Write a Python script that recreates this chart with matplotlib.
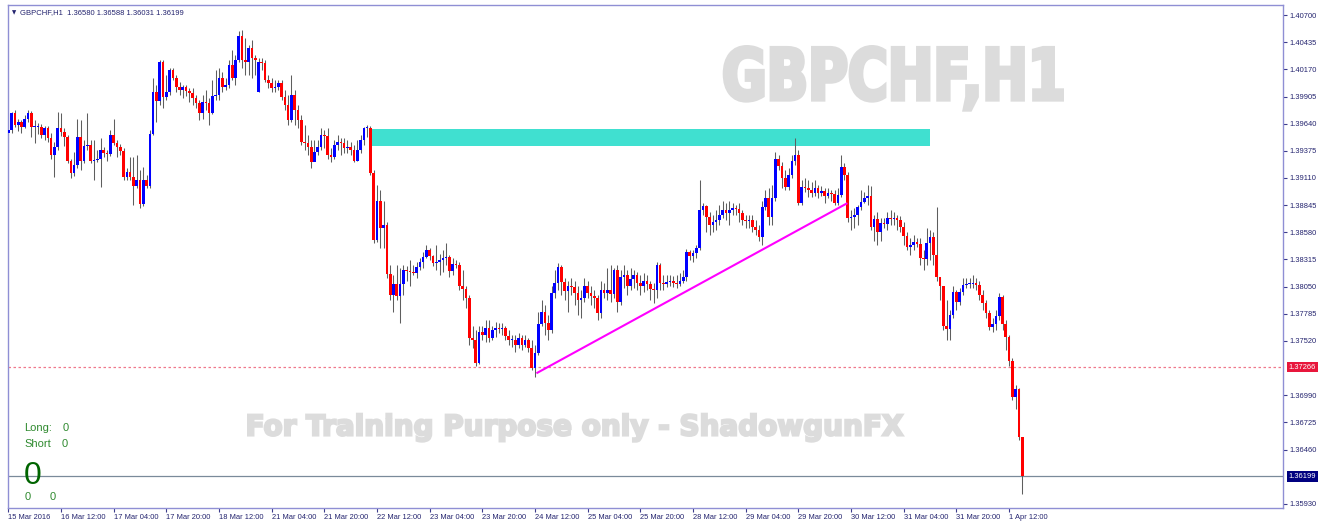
import numpy as np
import matplotlib
matplotlib.use("Agg")
import matplotlib.pyplot as plt
from matplotlib.textpath import TextPath
from matplotlib.patches import PathPatch, Rectangle
from matplotlib.font_manager import FontProperties
from matplotlib.transforms import Affine2D, IdentityTransform, blended_transform_factory

# ---- data (15 Mar 20:00 .. 1 Apr 16:00) ----
first_open = 1.3955
monday_open = 1.3995   # bar 76, 21 Mar 00:00, after the weekend gap

closes = [
    1.3958, 1.3974, 1.3963, 1.3966, 1.3961, 1.3969, 1.3974, 1.3961, 1.3961, 1.3961,
    1.3953, 1.3960, 1.3950, 1.3933, 1.3941, 1.3960, 1.3956, 1.3951, 1.3928, 1.3916,
    1.3924, 1.3951, 1.3928, 1.3942, 1.3943, 1.3928, 1.3929, 1.3930, 1.3938, 1.3935,
    1.3934, 1.3953, 1.3945, 1.3941, 1.3937, 1.3912, 1.3917, 1.3912, 1.3903, 1.3909,
    1.3886, 1.3909, 1.3903, 1.3954, 1.3995, 1.3986, 1.4024, 1.3990, 1.3995, 1.4016,
    1.4009, 1.4000, 1.3997, 1.4000, 1.3996, 1.3994, 1.3989, 1.3984, 1.3974, 1.3985,
    1.3984, 1.3974, 1.3991, 1.3992, 1.4009, 1.4000, 1.4002, 1.4021, 1.4009, 1.4026,
    1.4050, 1.4026, 1.4024, 1.4038, 1.4028, 1.4026, 1.4024, 1.4023, 1.4007, 1.4004,
    1.3999, 1.4000, 1.4004, 1.3990, 1.3982, 1.3968, 1.3992, 1.3977, 1.3968, 1.3946,
    1.3945, 1.3941, 1.3927, 1.3936, 1.3941, 1.3953, 1.3952, 1.3933, 1.3931, 1.3943,
    1.3946, 1.3945, 1.3940, 1.3941, 1.3938, 1.3928, 1.3938, 1.3948, 1.3960, 1.3960,
    1.3916, 1.3851, 1.3889, 1.3862, 1.3865, 1.3817, 1.3797, 1.3808, 1.3796, 1.3808,
    1.3821, 1.3820, 1.3819, 1.3818, 1.3824, 1.3829, 1.3834, 1.3841, 1.3835, 1.3828,
    1.3829, 1.3831, 1.3833, 1.3834, 1.3820, 1.3827, 1.3826, 1.3806, 1.3803, 1.3794,
    1.3755, 1.3753, 1.3731, 1.3761, 1.3758, 1.3765, 1.3755, 1.3763, 1.3765, 1.3764,
    1.3765, 1.3757, 1.3753, 1.3753, 1.3748, 1.3755, 1.3748, 1.3753, 1.3745, 1.3726,
    1.3740, 1.3769, 1.3780, 1.3770, 1.3763, 1.3799, 1.3809, 1.3824, 1.3810, 1.3801,
    1.3806, 1.3805, 1.3799, 1.3792, 1.3794, 1.3806, 1.3799, 1.3796, 1.3794, 1.3779,
    1.3802, 1.3799, 1.3802, 1.3798, 1.3821, 1.3790, 1.3814, 1.3816, 1.3806, 1.3812,
    1.3816, 1.3809, 1.3806, 1.3811, 1.3808, 1.3803, 1.3802, 1.3826, 1.3809, 1.3808,
    1.3810, 1.3811, 1.3809, 1.3808, 1.3811, 1.3814, 1.3839, 1.3835, 1.3838, 1.3843,
    1.3880, 1.3884, 1.3873, 1.3865, 1.3868, 1.3870, 1.3875, 1.3880, 1.3877, 1.3880,
    1.3882, 1.3881, 1.3877, 1.3870, 1.3869, 1.3870, 1.3863, 1.3860, 1.3853, 1.3883,
    1.3891, 1.3873, 1.3891, 1.3930, 1.3923, 1.3911, 1.3902, 1.3914, 1.3928, 1.3933,
    1.3887, 1.3902, 1.3901, 1.3899, 1.3896, 1.3901, 1.3896, 1.3898, 1.3893, 1.3896,
    1.3895, 1.3887, 1.3894, 1.3922, 1.3914, 1.3872, 1.3873, 1.3875, 1.3883, 1.3888,
    1.3891, 1.3893, 1.3863, 1.3871, 1.3858, 1.3867, 1.3866, 1.3872, 1.3871, 1.3872,
    1.3870, 1.3863, 1.3854, 1.3844, 1.3846, 1.3849, 1.3847, 1.3833, 1.3832, 1.3848,
    1.3853, 1.3836, 1.3814, 1.3806, 1.3767, 1.3764, 1.3777, 1.3800, 1.3790, 1.3800,
    1.3807, 1.3808, 1.3808, 1.3809, 1.3807, 1.3797, 1.3789, 1.3779, 1.3766, 1.3769,
    1.3776, 1.3795, 1.3769, 1.3756, 1.3732, 1.3697, 1.3705, 1.3658, 1.36199,
]
highs = [
    1.3974, 1.3975, 1.3977, 1.3969, 1.3968, 1.3972, 1.3977, 1.3976, 1.3968, 1.3965,
    1.3964, 1.3962, 1.3962, 1.3955, 1.3946, 1.3975, 1.3974, 1.3960, 1.3953, 1.3930,
    1.3936, 1.3969, 1.3968, 1.3948, 1.3974, 1.3948, 1.3948, 1.3938, 1.3950, 1.3941,
    1.3938, 1.3958, 1.3969, 1.3948, 1.3944, 1.3940, 1.3921, 1.3931, 1.3931, 1.3933,
    1.3919, 1.3922, 1.3914, 1.3958, 1.4009, 1.4002, 1.4026, 1.4026, 1.4011, 1.4018,
    1.4018, 1.4011, 1.4005, 1.4002, 1.4002, 1.3999, 1.3999, 1.3992, 1.3987, 1.3992,
    1.3997, 1.3989, 1.4007, 1.4016, 1.4018, 1.4014, 1.4009, 1.4026, 1.4036, 1.4031,
    1.4054, 1.4055, 1.4048, 1.4041, 1.4046, 1.4031, 1.4028, 1.4028, 1.4026, 1.4011,
    1.4009, 1.4007, 1.4007, 1.4007, 1.3997, 1.3992, 1.4011, 1.3997, 1.3982, 1.3972,
    1.3963, 1.3953, 1.3948, 1.3948, 1.3948, 1.3960, 1.3958, 1.3960, 1.3940, 1.3948,
    1.3953, 1.3950, 1.3950, 1.3948, 1.3946, 1.3943, 1.3948, 1.3953, 1.3961, 1.3963,
    1.3962, 1.3919, 1.3904, 1.3899, 1.3889, 1.3868, 1.3826, 1.3816, 1.3826, 1.3823,
    1.3826, 1.3825, 1.3831, 1.3826, 1.3829, 1.3833, 1.3839, 1.3846, 1.3843, 1.3836,
    1.3846, 1.3837, 1.3841, 1.3848, 1.3836, 1.3833, 1.3831, 1.3829, 1.3821, 1.3806,
    1.3797, 1.3767, 1.3763, 1.3767, 1.3767, 1.3772, 1.3772, 1.3767, 1.3771, 1.3770,
    1.3770, 1.3767, 1.3763, 1.3758, 1.3758, 1.3760, 1.3758, 1.3758, 1.3755, 1.3753,
    1.3748, 1.3780, 1.3792, 1.3787, 1.3777, 1.3806, 1.3821, 1.3828, 1.3826, 1.3813,
    1.3811, 1.3813, 1.3811, 1.3806, 1.3802, 1.3813, 1.3811, 1.3806, 1.3802, 1.3797,
    1.3811, 1.3809, 1.3823, 1.3826, 1.3823, 1.3826, 1.3821, 1.3826, 1.3821, 1.3823,
    1.3821, 1.3819, 1.3816, 1.3818, 1.3816, 1.3811, 1.3809, 1.3829, 1.3828, 1.3816,
    1.3816, 1.3816, 1.3815, 1.3816, 1.3818, 1.3821, 1.3842, 1.3841, 1.3841, 1.3846,
    1.3909, 1.3887, 1.3885, 1.3878, 1.3875, 1.3880, 1.3885, 1.3889, 1.3887, 1.3889,
    1.3887, 1.3885, 1.3887, 1.3880, 1.3875, 1.3875, 1.3875, 1.3870, 1.3865, 1.3889,
    1.3899, 1.3901, 1.3904, 1.3936, 1.3933, 1.3927, 1.3919, 1.3921, 1.3933, 1.3950,
    1.3938, 1.3909, 1.3911, 1.3909, 1.3907, 1.3909, 1.3904, 1.3903, 1.3901, 1.3901,
    1.3899, 1.3899, 1.3901, 1.3933, 1.3926, 1.3917, 1.3880, 1.3882, 1.3885, 1.3899,
    1.3897, 1.3904, 1.3903, 1.3875, 1.3878, 1.3872, 1.3872, 1.3878, 1.3880, 1.3878,
    1.3875, 1.3874, 1.3868, 1.3858, 1.3852, 1.3855, 1.3852, 1.3852, 1.3841, 1.3862,
    1.3860, 1.3858, 1.3883, 1.3813, 1.3806, 1.3792, 1.3782, 1.3806, 1.3802, 1.3804,
    1.3813, 1.3813, 1.3813, 1.3816, 1.3813, 1.3811, 1.3802, 1.3792, 1.3782, 1.3774,
    1.3782, 1.3799, 1.3797, 1.3772, 1.3758, 1.3735, 1.3709, 1.3706, 1.36588,
]
lows = [
    1.3936, 1.3955, 1.3961, 1.3957, 1.3955, 1.3960, 1.3966, 1.3951, 1.3945, 1.3954,
    1.3950, 1.3948, 1.3946, 1.3930, 1.3912, 1.3938, 1.3952, 1.3942, 1.3926, 1.3911,
    1.3913, 1.3921, 1.3919, 1.3926, 1.3938, 1.3926, 1.3909, 1.3927, 1.3902, 1.3931,
    1.3928, 1.3932, 1.3943, 1.3931, 1.3933, 1.3909, 1.3909, 1.3909, 1.3885, 1.3901,
    1.3882, 1.3884, 1.3901, 1.3901, 1.3953, 1.3966, 1.3982, 1.3979, 1.3987, 1.3992,
    1.4007, 1.3995, 1.3992, 1.3989, 1.3991, 1.3985, 1.3982, 1.3979, 1.3968, 1.3969,
    1.3977, 1.3963, 1.3973, 1.3987, 1.3987, 1.3995, 1.3997, 1.3999, 1.4007, 1.4002,
    1.4024, 1.4018, 1.4011, 1.4011, 1.4009, 1.4011, 1.3995, 1.4016, 1.4005, 1.3999,
    1.3995, 1.3995, 1.3997, 1.3987, 1.3977, 1.3963, 1.3966, 1.3963, 1.3960, 1.3943,
    1.3938, 1.3933, 1.3921, 1.3928, 1.3933, 1.3938, 1.3940, 1.3930, 1.3927, 1.3930,
    1.3938, 1.3933, 1.3935, 1.3935, 1.3933, 1.3927, 1.3928, 1.3935, 1.3943, 1.3951,
    1.3914, 1.3848, 1.3849, 1.3843, 1.3843, 1.3813, 1.3792, 1.3780, 1.3792, 1.3770,
    1.3797, 1.3811, 1.3806, 1.3816, 1.3813, 1.3821, 1.3823, 1.3833, 1.3831, 1.3825,
    1.3821, 1.3816, 1.3819, 1.3826, 1.3814, 1.3816, 1.3823, 1.3802, 1.3792, 1.3784,
    1.3748, 1.3745, 1.3728, 1.3730, 1.3753, 1.3751, 1.3751, 1.3753, 1.3756, 1.3760,
    1.3758, 1.3753, 1.3748, 1.3746, 1.3741, 1.3745, 1.3743, 1.3746, 1.3741, 1.3724,
    1.3717, 1.3738, 1.3767, 1.3758, 1.3753, 1.3760, 1.3794, 1.3802, 1.3797, 1.3792,
    1.3780, 1.3797, 1.3787, 1.3777, 1.3774, 1.3790, 1.3794, 1.3787, 1.3784, 1.3772,
    1.3774, 1.3794, 1.3792, 1.3790, 1.3794, 1.3780, 1.3787, 1.3804, 1.3797, 1.3802,
    1.3804, 1.3802, 1.3797, 1.3800, 1.3802, 1.3792, 1.3789, 1.3794, 1.3802, 1.3802,
    1.3805, 1.3806, 1.3805, 1.3804, 1.3806, 1.3809, 1.3811, 1.3831, 1.3829, 1.3833,
    1.3841, 1.3875, 1.3858, 1.3855, 1.3858, 1.3860, 1.3865, 1.3872, 1.3870, 1.3865,
    1.3875, 1.3875, 1.3868, 1.3865, 1.3862, 1.3862, 1.3858, 1.3855, 1.3850, 1.3846,
    1.3880, 1.3865, 1.3865, 1.3889, 1.3919, 1.3901, 1.3899, 1.3899, 1.3911, 1.3924,
    1.3885, 1.3885, 1.3897, 1.3892, 1.3892, 1.3893, 1.3891, 1.3893, 1.3887, 1.3891,
    1.3889, 1.3885, 1.3885, 1.3892, 1.3909, 1.3868, 1.3860, 1.3862, 1.3865, 1.3880,
    1.3887, 1.3885, 1.3860, 1.3850, 1.3846, 1.3850, 1.3862, 1.3860, 1.3865, 1.3865,
    1.3860, 1.3858, 1.3846, 1.3841, 1.3836, 1.3841, 1.3844, 1.3826, 1.3821, 1.3826,
    1.3831, 1.3826, 1.3811, 1.3792, 1.3763, 1.3753, 1.3753, 1.3774, 1.3782, 1.3787,
    1.3797, 1.3804, 1.3804, 1.3804, 1.3802, 1.3792, 1.3782, 1.3774, 1.3763, 1.3761,
    1.3763, 1.3772, 1.3763, 1.3743, 1.3728, 1.3694, 1.3686, 1.3655, 1.36031,
]

time_labels = ["15 Mar 2016", "16 Mar 12:00", "17 Mar 04:00", "17 Mar 20:00", "18 Mar 12:00",
               "21 Mar 04:00", "21 Mar 20:00", "22 Mar 12:00", "23 Mar 04:00", "23 Mar 20:00",
               "24 Mar 12:00", "25 Mar 04:00", "25 Mar 20:00", "28 Mar 12:00", "29 Mar 04:00",
               "29 Mar 20:00", "30 Mar 12:00", "31 Mar 04:00", "31 Mar 20:00", "1 Apr 12:00"]
price_ticks = [1.40700, 1.40435, 1.40170, 1.39905, 1.39640, 1.39375, 1.39110, 1.38845,
               1.38580, 1.38315, 1.38050, 1.37785, 1.37520, 1.36990, 1.36725, 1.36460, 1.35930]

header = "GBPCHF,H1  1.36580 1.36588 1.36031 1.36199"
level_price = 1.37266
bid_price = 1.36199
zone_bars = (110.5, 280.1)
zone_prices = (1.3942, 1.3959)
trend_bars = [160.7, 254.6]
trend_prices = [1.3721, 1.3886]

# ---- figure ----
W, H = 1332, 525
fig = plt.figure(figsize=(W / 100, H / 100), dpi=100)
fig.patch.set_facecolor("white")
ax = fig.add_axes([8 / W, 1 - 508 / H, (1283 - 8) / W, (508 - 5) / H])

closes = np.array(closes)
highs = np.array(highs)
lows = np.array(lows)
n = len(closes)
idx = np.arange(n)
# hourly FX bars open where the previous one closed
opens = np.r_[first_open, closes[:-1]]
opens[76] = monday_open

up = closes >= opens
body_lo = np.minimum(opens, closes)
body_h = np.maximum(np.abs(closes - opens), 0.00008)

ax.add_patch(Rectangle((zone_bars[0], zone_prices[0]), zone_bars[1] - zone_bars[0],
                       zone_prices[1] - zone_prices[0], facecolor="#40e0d0",
                       edgecolor="none", zorder=1))

ax.vlines(idx, lows, highs, color="#5e5e5e", lw=0.75, zorder=2)
ax.bar(idx[up], body_h[up], bottom=body_lo[up], width=0.8, color="#0000ff", lw=0, zorder=3)
ax.bar(idx[~up], body_h[~up], bottom=body_lo[~up], width=0.8, color="#ff0000", lw=0, zorder=3)

ax.plot(trend_bars, trend_prices, color="#ff00ff", lw=1.5, zorder=4)
ax.axhline(level_price, color="#f0788c", lw=0.9, ls=(0, (2, 2)), zorder=1.5)
ax.axhline(bid_price, color="#7a8a9a", lw=0.9, zorder=1.5)

bar_px = 3.292
ax.set_xlim(-0.1, (1283 - 8) / bar_px - 0.1)
ax.set_ylim(1.358908, 1.407976)

frame = "#8f8fd4"
for s in ax.spines.values():
    s.set_color(frame)
    s.set_linewidth(1)

ax.yaxis.tick_right()
ax.set_yticks(price_ticks)
ax.set_yticklabels([f"{p:.5f}" for p in price_ticks])
ax.set_xticks(np.arange(len(time_labels)) * 16)
ax.set_xticklabels(time_labels)
for lab in ax.get_xticklabels():
    lab.set_horizontalalignment("left")
ax.tick_params(axis="y", length=3, width=0.8, color="#3c3c8c", labelsize=5.4,
               labelcolor="#23236e", pad=1.5)
ax.tick_params(axis="x", length=3, width=0.8, color="#3c3c8c", labelsize=5.4,
               labelcolor="#23236e", pad=1.5)
for lab in ax.get_xticklabels() + ax.get_yticklabels():
    lab.set_family("Liberation Sans")

bt = blended_transform_factory(ax.transAxes, ax.transData)
ax.text(1.0045, level_price, f"{level_price:.5f}", transform=bt, ha="left", va="center",
        fontsize=5.4, family="Liberation Sans", color="white", clip_on=False,
        bbox=dict(boxstyle="square,pad=0.25", fc="#e8173c", ec="none"))
ax.text(1.0045, bid_price, f"{bid_price:.5f}", transform=bt, ha="left", va="center",
        fontsize=5.4, family="Liberation Sans", color="white", clip_on=False,
        bbox=dict(boxstyle="square,pad=0.25", fc="#000080", ec="none"))


def px(x, y):
    return x / W, 1 - y / H


fig.text(*px(11.5, 12.5), "\u25bc", fontsize=4, color="#23236e", va="center")
fig.text(*px(20.5, 12.5), header, fontsize=5.5, family="Liberation Sans",
         color="#23236e", va="center")

green = "#2f8a2f"
fig.text(*px(24.6, 431), "Long:", fontsize=8, family="Liberation Sans", color=green)
fig.text(*px(62.5, 431), "0", fontsize=8, family="Liberation Sans", color=green)
fig.text(*px(24.6, 447), "Short", fontsize=8, family="Liberation Sans", color=green)
fig.text(*px(61.6, 447), "0", fontsize=8, family="Liberation Sans", color=green)
fig.text(*px(23.5, 483.5), "0", fontsize=23, family="Liberation Sans", color="#006400")
fig.text(*px(24.6, 500.5), "0", fontsize=8, family="Liberation Sans", color=green)
fig.text(*px(50, 500.5), "0", fontsize=8, family="Liberation Sans", color=green)


def watermark(s, x0, y0, x1, y1, lw):
    # squeeze a bold text outline into a pixel box (y measured from the top)
    fp = FontProperties(family="DejaVu Sans", weight="bold")
    tp = TextPath((0, 0), s, size=100, prop=fp)
    e = tp.get_extents()
    m = lw * 100 / 72 / 2
    sx = (x1 - x0 - 2 * m) / e.width
    sy = (y1 - y0 - 2 * m) / e.height
    tr = Affine2D().translate(-e.x0, -e.y0).scale(sx, sy).translate(x0 + m, H - y1 + m)
    p = PathPatch(tr.transform_path(tp), transform=IdentityTransform(), facecolor="#dcdcdc",
                  edgecolor="#dcdcdc", lw=lw, zorder=0.5, clip_on=False)
    ax.add_artist(p)


watermark("GBPCHF,H1", 722.7, 45, 1064, 111.7, 3.0)
watermark("For Training Purpose only - ShadowgunFX", 247, 412.7, 904, 442.7, 1.6)

fig.savefig("out.png", dpi=100)
